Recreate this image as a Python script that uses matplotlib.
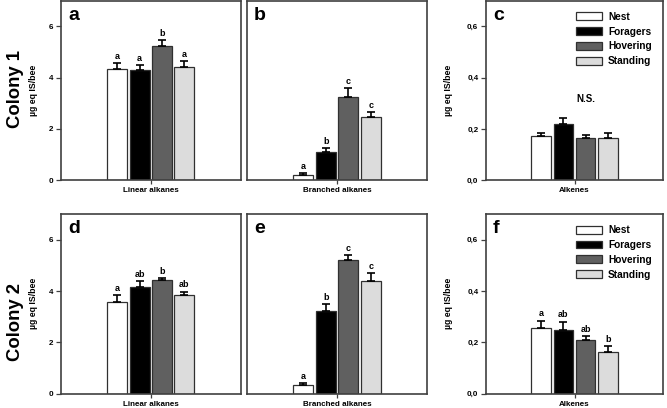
import matplotlib
matplotlib.use("Agg")
import matplotlib.pyplot as plt
from matplotlib.patches import Patch

plt.rcParams['font.family'] = ['Liberation Sans', 'DejaVu Sans']

groups = ["Nest", "Foragers", "Hovering", "Standing"]
colors = ["#ffffff", "#000000", "#606060", "#dcdcdc"]

# Colony 1
c1_linear = [4.35, 4.31, 5.23, 4.43]
c1_linear_err = [0.20, 0.16, 0.22, 0.21]
c1_linear_sig = ["a", "a", "b", "a"]
c1_branched = [0.22, 1.11, 3.23, 2.48]
c1_branched_err = [0.05, 0.14, 0.35, 0.19]
c1_branched_sig = ["a", "b", "c", "c"]
c1_alkenes = [0.171, 0.219, 0.166, 0.166]
c1_alkenes_err = [0.014, 0.022, 0.010, 0.017]
c1_alkenes_sig = None

# Colony 2
c2_linear = [3.59, 4.16, 4.43, 3.86]
c2_linear_err = [0.24, 0.22, 0.06, 0.12]
c2_linear_sig = ["a", "ab", "b", "ab"]
c2_branched = [0.34, 3.24, 5.22, 4.40]
c2_branched_err = [0.08, 0.25, 0.18, 0.31]
c2_branched_sig = ["a", "b", "c", "c"]
c2_alkenes = [0.256, 0.250, 0.210, 0.164]
c2_alkenes_err = [0.029, 0.031, 0.013, 0.020]
c2_alkenes_sig = ["a", "ab", "ab", "b"]

xlabels = ["Linear alkanes", "Branched alkanes", "Alkenes"]
panel_letters = ["a", "b", "c", "d", "e", "f"]

W, H = 667, 408
fig = plt.figure(figsize=(W / 100, H / 100), dpi=100)

def add_ax(l, t, r, b):
    return fig.add_axes([l / W, 1 - b / H, (r - l) / W, (b - t) / H])

boxes = [
    (61, 0.5, 240.5, 180.3), (246.7, 0.5, 427.3, 180.3), (486, 0.5, 663, 180.3),
    (61, 214, 240.5, 393.7), (246.7, 214, 427.3, 393.7), (486, 214, 663, 393.7),
]
data = [
    (c1_linear, c1_linear_err, c1_linear_sig, xlabels[0], 7.0),
    (c1_branched, c1_branched_err, c1_branched_sig, xlabels[1], 7.0),
    (c1_alkenes, c1_alkenes_err, c1_alkenes_sig, xlabels[2], 0.7),
    (c2_linear, c2_linear_err, c2_linear_sig, xlabels[0], 7.0),
    (c2_branched, c2_branched_err, c2_branched_sig, xlabels[1], 7.0),
    (c2_alkenes, c2_alkenes_err, c2_alkenes_sig, xlabels[2], 0.7),
]
xpos = [-1.5, -0.5, 0.5, 1.5]
spine_col = "#404040"

for i, (box, (vals, errs, sig, xl, ymax)) in enumerate(zip(boxes, data)):
    ax = add_ax(*box)
    ax.bar(xpos, vals, width=0.89, color=colors, edgecolor="#303030", linewidth=0.9, zorder=2)
    ax.errorbar(xpos, vals, yerr=[[0] * 4, errs], fmt="none", ecolor="black",
                elinewidth=1.2, capsize=3.2, capthick=1.2, zorder=3)
    ax.set_xlim(-4, 4)
    ax.set_ylim(0, ymax)
    for s in ax.spines.values():
        s.set_color(spine_col)
        s.set_linewidth(1.2)
    ax.set_xticks([0])
    ax.set_xticklabels([xl], fontsize=5.8, fontweight="bold")
    ax.tick_params(axis="x", length=3, width=0.9, pad=2, color=spine_col)
    col = i % 3
    if col == 0:
        ax.set_yticks([0, 2, 4, 6])
        ax.set_yticklabels(["0", "2", "4", "6"], fontsize=5.8, fontweight="bold")
    elif col == 2:
        ax.set_yticks([0, 0.2, 0.4, 0.6])
        ax.set_yticklabels(["0,0", "0,2", "0,4", "0,6"], fontsize=5.8, fontweight="bold")
    else:
        ax.set_yticks([])
    ax.tick_params(axis="y", length=3.5, width=0.9, pad=2, color=spine_col)
    if col != 1:
        ax.set_ylabel("µg eq IS/bee", fontsize=6.3, fontweight="bold")
        ax.yaxis.set_label_coords(-0.128 if col == 0 else -0.186, 0.5)
    ax.text(0.04, 0.965, panel_letters[i], transform=ax.transAxes, fontsize=14,
            fontweight="bold", va="top", ha="left")
    if sig is not None:
        for x, v, e, s in zip(xpos, vals, errs, sig):
            ax.annotate(s, (x, v + e), xytext=(0, 1.5), textcoords="offset points",
                        ha="center", va="bottom", fontsize=6.5, fontweight="bold")
    elif col == 2:
        ax.text(0.52, 0.315, "N.S.", ha="center", va="center", fontsize=7, fontweight="bold")
    if col == 2:
        handles = [Patch(facecolor=c, edgecolor="#303030", linewidth=0.9) for c in colors]
        ax.legend(handles, groups, loc="upper right", frameon=False,
                  prop={"size": 7.3, "weight": "bold"},
                  handlelength=2.55, handleheight=0.8, labelspacing=0.48,
                  handletextpad=0.65, borderaxespad=0.7, borderpad=0.4)

fig.text(16 / W, 1 - 89 / H, "Colony 1", rotation=90, fontsize=13.3, fontweight="bold",
         ha="center", va="center")
fig.text(16 / W, 1 - 322 / H, "Colony 2", rotation=90, fontsize=13.3, fontweight="bold",
         ha="center", va="center")

fig.savefig("out.png", dpi=100)
